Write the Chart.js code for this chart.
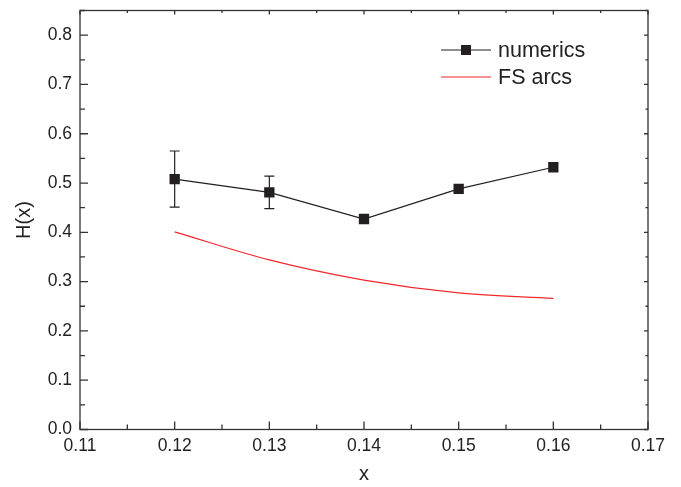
<!DOCTYPE html>
<html>
<head>
<meta charset="utf-8">
<script src="https://cdn.jsdelivr.net/npm/chart.js@4/dist/chart.umd.min.js"></script>
<style>
  html, body { margin: 0; padding: 0; background: #fff; }
  #wrap { width: 681px; height: 487px; }
</style>
</head>
<body>
<div id="wrap"><canvas id="hchart" width="681" height="487"></canvas></div>
<script>
// data
var xValues = [0.12, 0.13, 0.14, 0.15, 0.16];
var numerics = [0.508, 0.481, 0.427, 0.488, 0.532];
var numericsErr = [0.057, 0.033, 0, 0, 0];
var fsArcs = [0.401, 0.344, 0.303, 0.277, 0.266];
var seriesNames = ['numerics', 'FS arcs'];

var xMin = 0.11, xMax = 0.17, xStep = 0.01;
var yMin = 0, yMax = 0.85, yStep = 0.1;

var FONT = '"Liberation Sans", Arial, Helvetica, sans-serif';
var INK = '#231f20';
var RED = '#f0282d';

function pts(ys) {
    return xValues.map(function (x, i) { return { x: x, y: ys[i] }; });
}

// error bars, drawn under the markers
var errorBars = {
    id: 'errorBars',
    beforeDatasetsDraw: function (chart) {
        var ctx = chart.ctx, xs = chart.scales.x, ys = chart.scales.y;
        ctx.save();
        ctx.strokeStyle = INK;
        ctx.lineWidth = 1.2;
        xValues.forEach(function (xv, i) {
            var e = numericsErr[i];
            if (!e) return;
            var px = xs.getPixelForValue(xv);
            var top = ys.getPixelForValue(numerics[i] + e);
            var bot = ys.getPixelForValue(numerics[i] - e);
            ctx.beginPath();
            ctx.moveTo(px, top); ctx.lineTo(px, bot);
            ctx.moveTo(px - 5, top); ctx.lineTo(px + 5, top);
            ctx.moveTo(px - 5, bot); ctx.lineTo(px + 5, bot);
            ctx.stroke();
        });
        ctx.restore();
    }
};

// box frame with inward ticks on all sides, plus the legend inside the plot
var frame = {
    id: 'frame',
    afterDraw: function (chart) {
        var ctx = chart.ctx, a = chart.chartArea;
        var xs = chart.scales.x, ys = chart.scales.y;
        ctx.save();
        ctx.strokeStyle = '#333';
        ctx.lineWidth = 1.3;
        ctx.strokeRect(a.left, a.top, a.right - a.left, a.bottom - a.top);

        ctx.beginPath();
        var n = Math.round((xMax - xMin) / (xStep / 2));
        for (var i = 0; i <= n; i++) {
            var px = xs.getPixelForValue(xMin + i * xStep / 2);
            var len = i % 2 === 0 ? 8 : 5;
            ctx.moveTo(px, a.bottom); ctx.lineTo(px, a.bottom - len);
            ctx.moveTo(px, a.top); ctx.lineTo(px, a.top + len * 0.5);
        }
        var m = Math.round((yMax - yMin) / (yStep / 2));
        for (var j = 0; j <= m; j++) {
            var py = ys.getPixelForValue(yMin + j * yStep / 2);
            var l2 = j % 2 === 0 ? 8 : 5;
            ctx.moveTo(a.left, py); ctx.lineTo(a.left + l2, py);
            ctx.moveTo(a.right, py); ctx.lineTo(a.right - l2 * 0.5, py);
        }
        ctx.stroke();

        // legend
        var lx = 441, lw = 50, ly = [50, 77];
        ctx.font = '21.5px ' + FONT;
        ctx.textBaseline = 'middle';
        ctx.fillStyle = INK;
        ctx.lineWidth = 1.2;
        ctx.strokeStyle = INK;
        ctx.beginPath();
        ctx.moveTo(lx, ly[0]); ctx.lineTo(lx + lw, ly[0]);
        ctx.stroke();
        ctx.fillRect(lx + lw / 2 - 5, ly[0] - 5, 10, 10);
        ctx.strokeStyle = RED;
        ctx.beginPath();
        ctx.moveTo(lx, ly[1]); ctx.lineTo(lx + lw, ly[1]);
        ctx.stroke();
        ctx.fillStyle = '#222';
        ctx.fillText(seriesNames[0], lx + lw + 7, ly[0] + 1);
        ctx.fillText(seriesNames[1], lx + lw + 7, ly[1] + 1);
        ctx.restore();
    }
};

var chart = new Chart(document.getElementById('hchart').getContext('2d'), {
    type: 'line',
    data: {
        datasets: [
            {
                label: seriesNames[0],
                data: pts(numerics),
                borderColor: INK,
                backgroundColor: INK,
                borderWidth: 1.2,
                pointStyle: 'rect',
                pointRadius: 7.3,
                pointHoverRadius: 7.3,
                pointBorderWidth: 0,
                tension: 0
            },
            {
                label: seriesNames[1],
                data: pts(fsArcs),
                borderColor: RED,
                borderWidth: 1.2,
                pointRadius: 0,
                cubicInterpolationMode: 'monotone'
            }
        ]
    },
    options: {
        responsive: false,
        animation: false,
        events: [],
        layout: { padding: { top: 10.5, right: 33, left: 0, bottom: 0 } },
        plugins: {
            legend: { display: false },
            tooltip: { enabled: false }
        },
        scales: {
            x: {
                type: 'linear',
                min: xMin,
                max: xMax,
                grid: { display: false, drawTicks: false },
                border: { display: false },
                ticks: {
                    stepSize: xStep,
                    padding: 6,
                    color: '#222',
                    font: { family: FONT, size: 17.5 },
                    maxRotation: 0,
                    callback: function (v) { return v.toFixed(2); }
                },
                title: {
                    display: true,
                    text: 'x',
                    color: '#222',
                    font: { family: FONT, size: 20 },
                    padding: { top: 0, bottom: 1 }
                },
                afterFit: function (s) {
                    s.height = 57.5;
                    s.paddingLeft = 0; s.paddingRight = 0;
                }
            },
            y: {
                min: yMin,
                max: yMax,
                grid: { display: false, drawTicks: false },
                border: { display: false },
                ticks: {
                    stepSize: yStep,
                    padding: 8,
                    color: '#222',
                    font: { family: FONT, size: 17.5 },
                    callback: function (v) {
                        var r = Math.round(v * 10) / 10;
                        return Math.abs(r - v) < 1e-6 ? r.toFixed(1) : '';
                    }
                },
                title: {
                    display: true,
                    text: 'H(x)',
                    color: '#222',
                    font: { family: FONT, size: 20 },
                    padding: { top: 12, bottom: 0 }
                },
                afterFit: function (s) {
                    s.width = 80;
                    s.paddingTop = 0; s.paddingBottom = 0;
                }
            }
        }
    },
    plugins: [errorBars, frame]
});
</script>
</body>
</html>
